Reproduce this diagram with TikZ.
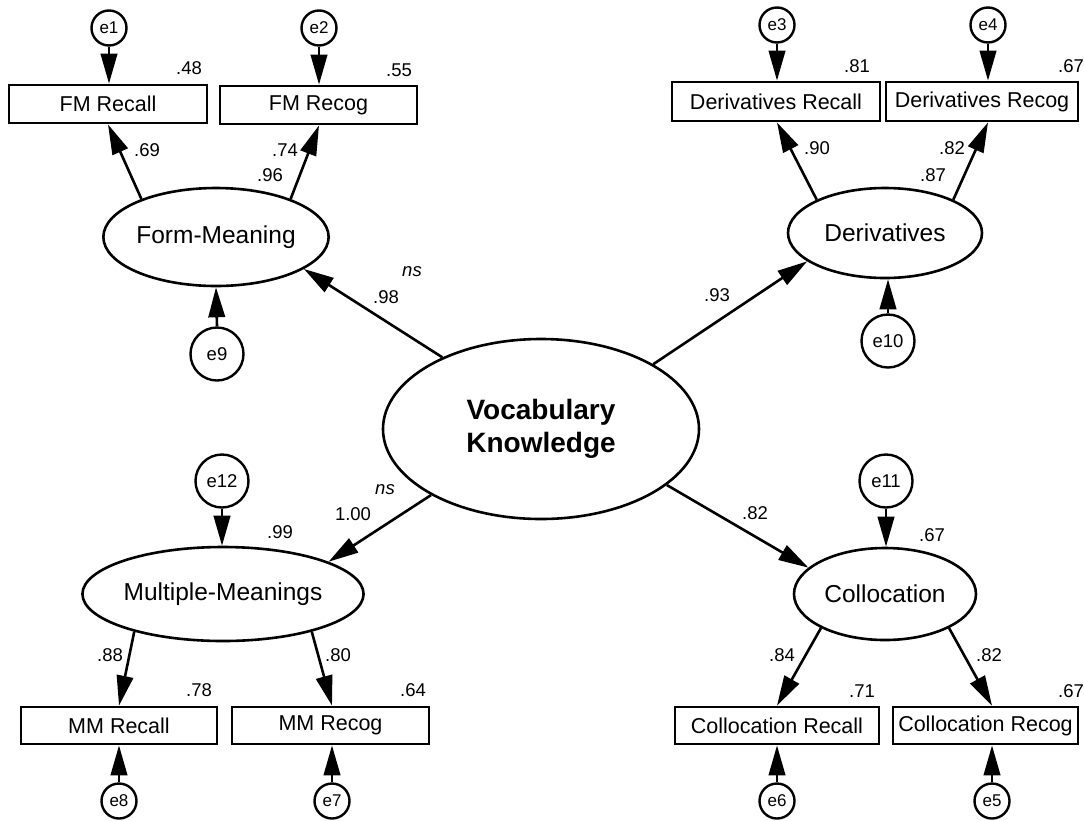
\documentclass[tikz,border=0pt]{standalone}
\usepackage{fontspec}
\setmainfont{Liberation Sans}
\usetikzlibrary{arrows.meta,shapes.geometric}

\tikzset{
  obs/.style={draw, line width=2.8pt, rectangle, inner sep=0pt, minimum height=38pt,
              font=\fontsize{21.5}{24}\selectfont},
  lat/.style={draw, line width=2.6pt, ellipse, inner sep=0pt,
              font=\fontsize{24.5}{28}\selectfont},
  errs/.style={draw, line width=2.4pt, circle, inner sep=0pt, minimum size=35pt,
              font=\fontsize{17}{19}\selectfont},
  errb/.style={draw, line width=2.4pt, circle, inner sep=0pt, minimum size=53pt,
              font=\fontsize{18.5}{20}\selectfont},
  coef/.style={inner sep=0pt, font=\fontsize{18.5}{20}\selectfont},
  nsl/.style={inner sep=0pt, font=\fontsize{18.5}{20}\selectfont\itshape},
  arr/.style={line width=2.6pt, -{Triangle[length=30pt,width=16.5pt]}}
}

\begin{document}
\begin{tikzpicture}[x=1pt,y=-1pt]
\useasboundingbox (0,0) rectangle (1084,820);

% central factor
\node[lat, minimum width=316pt, minimum height=180pt,
      font=\fontsize{28}{33}\selectfont\bfseries, align=center] (VK) at (541,429)
      {Vocabulary\\Knowledge};

% first-order factors
\node[lat, minimum width=214pt, minimum height=98pt] (FM) at (216,237) {Form-Meaning};
\node[lat, minimum width=194pt, minimum height=90pt] (DV) at (885,233) {Derivatives};
\node[lat, minimum width=236pt, minimum height=94pt] (MM) at (223,594) {Multiple-Meanings};
\node[lat, minimum width=182pt, minimum height=92pt] (CO) at (885,594) {Collocation};

% observed indicators
\node[obs, minimum width=198pt] (FMRc) at (108,104) {FM Recall};
\node[obs, minimum width=197pt] (FMRg) at (318.5,105) {FM Recog};
\node[obs, minimum width=208pt, minimum height=39pt] (DVRc) at (776,101.5) {Derivatives Recall};
\node[obs, minimum width=192pt, minimum height=39pt] (DVRg) at (982,101.5) {Derivatives Recog};
\node[obs, minimum width=196pt, minimum height=37pt] (MMRc) at (119,725.5) {MM Recall};
\node[obs, minimum width=197pt, minimum height=37pt] (MMRg) at (330.5,725.5) {MM Recog};
\node[obs, minimum width=204pt, minimum height=37pt] (CORc) at (777,725.5) {Collocation Recall};
\node[obs, minimum width=185pt, minimum height=37pt] (CORg) at (985.5,725.5) {Collocation Recog};

% error terms of the indicators
\node[errs] (e1) at (109,28) {e1};
\node[errs] (e2) at (319,28) {e2};
\node[errs] (e3) at (777,25) {e3};
\node[errs] (e4) at (988,25) {e4};
\node[errs] (e5) at (992,801) {e5};
\node[errs] (e6) at (777,801) {e6};
\node[errs] (e7) at (332,801) {e7};
\node[errs] (e8) at (119,801) {e8};

% disturbances of the factors
\node[errb] (e9)  at (217,354) {e9};
\node[errb] (e10) at (888,341) {e10};
\node[errb] (e11) at (886,481) {e11};
\node[errb] (e12) at (222,481) {e12};

% error paths
\draw[arr] (e1.south) -- (e1.south |- FMRc.north);
\draw[arr] (e2.south) -- (e2.south |- FMRg.north);
\draw[arr] (e3.south) -- (e3.south |- DVRc.north);
\draw[arr] (e4.south) -- (e4.south |- DVRg.north);
\draw[arr] (e8.north) -- (e8.north |- MMRc.south);
\draw[arr] (e7.north) -- (e7.north |- MMRg.south);
\draw[arr] (e6.north) -- (e6.north |- CORc.south);
\draw[arr] (e5.north) -- (e5.north |- CORg.south);
\draw[arr] (e9.north) -- (FM.south);
\draw[arr] (e10.north) -- (e10.north |- DV.south);
\draw[arr] (e12.south) -- (e12.south |- MM.north);
\draw[arr] (e11.south) -- (e11.south |- CO.north);

% loadings
\draw[arr] (FM.153) -- (FMRc.south);
\draw[arr] (FM.27) -- (e2.south |- FMRg.south);
\draw[arr] (DV.154) -- (e3.south |- DVRc.south);
\draw[arr] (DV.26) -- (e4.south |- DVRg.south);
\draw[arr] (MM.203) -- (e8.north |- MMRc.north);
\draw[arr] (MM.337) -- (e7.north |- MMRg.north);
\draw[arr] (CO.208) -- (e6.north |- CORc.north);
\draw[arr] (CO.332) -- (e5.north |- CORg.north);

% second-order paths
\draw[arr] (VK.144) -- (FM.340);
\draw[arr] (VK.30) -- (DV.200);
\draw[arr] (VK.211) -- (MM.17);
\draw[arr] (VK.336) -- (CO.161);

% coefficients
\node[coef] (c01) at (189,68) {.48};
\node[coef] (c02) at (399,70) {.55};
\node[coef] (c03) at (147,150) {.69};
\node[coef] (c04) at (285,150) {.74};
\node[coef] (c05) at (270,175) {.96};
\node[nsl]  (n1)  at (412,272) {ns};
\node[coef] (c06) at (386,297) {.98};
\node[coef] (c07) at (857,66) {.81};
\node[coef] (c08) at (1071,66) {.67};
\node[coef] (c09) at (817,148) {.90};
\node[coef] (c10) at (952,148) {.82};
\node[coef] (c11) at (933,175) {.87};
\node[coef] (c12) at (717,295) {.93};
\node[nsl]  (n2)  at (385,490) {ns};
\node[coef] (c13) at (353,514) {1.00};
\node[coef] (c14) at (280,532) {.99};
\node[coef] (c15) at (755,513) {.82};
\node[coef] (c16) at (932,535) {.67};
\node[coef] (c17) at (110,655) {.88};
\node[coef] (c18) at (338,655) {.80};
\node[coef] (c19) at (199,690) {.78};
\node[coef] (c20) at (413,690) {.64};
\node[coef] (c21) at (782,655) {.84};
\node[coef] (c22) at (989,655) {.82};
\node[coef] (c23) at (862,691) {.71};
\node[coef] (c24) at (1071,691) {.67};
\end{tikzpicture}
\end{document}
